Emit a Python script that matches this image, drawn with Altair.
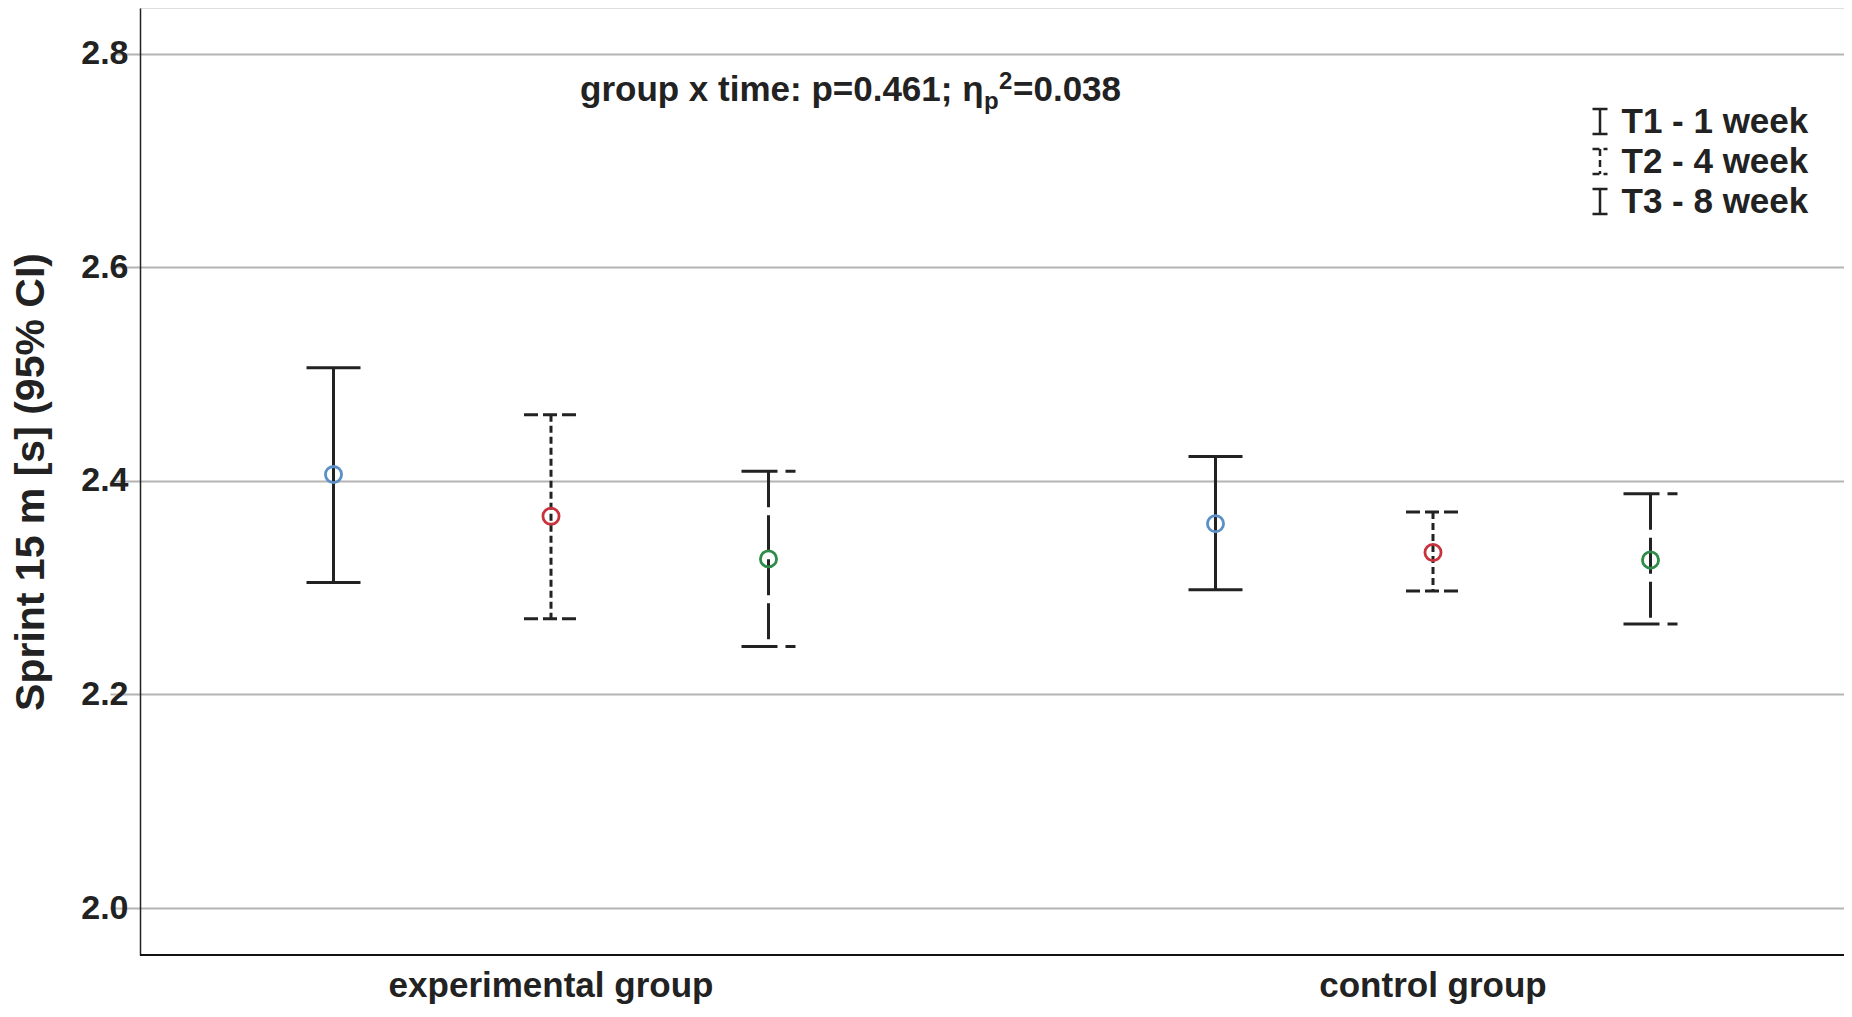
import altair as alt
import pandas as pd

# ---- data ----
groups = ["experimental group"] * 3 + ["control group"] * 3
times = ["T1 - 1 week", "T2 - 4 week", "T3 - 8 week"] * 2
means = [2.406, 2.367, 2.327, 2.360, 2.333, 2.326]
lower = [2.305, 2.271, 2.245, 2.298, 2.297, 2.266]
upper = [2.506, 2.462, 2.409, 2.423, 2.371, 2.388]

group_order = ["experimental group", "control group"]
time_order = ["T1 - 1 week", "T2 - 4 week", "T3 - 8 week"]
point_colors = ["#5b8fc8", "#c8323c", "#2e8b4a"]
bar_dashes = [[1, 0], [7, 4], [36, 8]]
cap_dashes = [[1, 0], [14, 5], [36, 8]]
y_ticks = [2.0, 2.2, 2.4, 2.6, 2.8]
y_title = "Sprint 15 m [s] (95% CI)"
# annotation pieces: main text, subscript, superscript, tail
note_main = "group x time: p=0.461; \u03b7"
note_sub = "p"
note_sup = "2"
note_tail = "=0.038"

df = pd.DataFrame({"group": groups, "time": times, "mean": means,
                   "lower": lower, "upper": upper})

W, H = 1704, 947
FONT = "Liberation Sans"
INK = "#222222"

x_enc = alt.X(
    "group:N",
    scale=alt.Scale(domain=group_order, range=[-30, 1734], paddingInner=0, paddingOuter=0),
    axis=alt.Axis(title=None, labelFontSize=35, labelFont=FONT, labelFontWeight="bold",
                  labelColor=INK, labelPadding=13, ticks=False, domain=False,
                  grid=False, labelAngle=0, labelLimit=800),
)
xo_enc = alt.XOffset("time:N", scale=alt.Scale(domain=time_order, paddingInner=0,
                                                paddingOuter=0.5276))
y_scale = alt.Scale(domain=[1.956, 2.843], nice=False, zero=False)

base = alt.Chart(df)

bars = base.mark_rule(strokeWidth=3, color=INK).encode(
    x=x_enc,
    xOffset=xo_enc,
    y=alt.Y("upper:Q", scale=y_scale,
            axis=alt.Axis(values=y_ticks, format=".1f", title=y_title,
                          labelFontSize=34, labelFont=FONT, labelFontWeight="bold",
                          labelColor=INK, labelPadding=12, ticks=False,
                          domain=True, domainColor=INK, domainWidth=1.5,
                          grid=True, gridColor="#b4b4b4", gridWidth=2,
                          titleFontSize=41, titleFont=FONT, titleFontWeight="bold",
                          titleColor=INK, titlePadding=28)),
    y2="lower:Q",
    strokeDash=alt.StrokeDash(
        "time:N",
        scale=alt.Scale(domain=time_order, range=bar_dashes),
        legend=alt.Legend(title=None, orient="none", legendX=1442.5, legendY=96,
                          symbolType="M-0.6,-1L0.6,-1M0,-1L0,1M-0.6,1L0.6,1",
                          symbolSize=625, symbolStrokeWidth=2.5,
                          symbolStrokeColor=INK, symbolFillColor="transparent",
                          labelFontSize=35, labelFont=FONT, labelFontWeight="bold",
                          labelColor=INK, rowPadding=4, labelOffset=4, padding=0,
                          labelLimit=400),
    ),
)

cap_shape = "M-1,0L1,0"
cap_dash = alt.StrokeDash("time:N", scale=alt.Scale(domain=time_order, range=cap_dashes),
                          legend=None)
caps_top = base.mark_point(shape=cap_shape, size=2916, strokeWidth=3, color=INK,
                           filled=False, opacity=1).encode(
    x=x_enc, xOffset=xo_enc, y=alt.Y("upper:Q", scale=y_scale), strokeDash=cap_dash)
caps_bot = base.mark_point(shape=cap_shape, size=2916, strokeWidth=3, color=INK,
                           filled=False, opacity=1).encode(
    x=x_enc, xOffset=xo_enc, y=alt.Y("lower:Q", scale=y_scale), strokeDash=cap_dash)

points = base.mark_point(shape="circle", filled=False, size=260, strokeWidth=2.8,
                         opacity=1).encode(
    x=x_enc, xOffset=xo_enc, y=alt.Y("mean:Q", scale=y_scale),
    color=alt.Color("time:N", scale=alt.Scale(domain=time_order, range=point_colors),
                    legend=None),
)

one = pd.DataFrame({"a": [0]})


def note_piece(text, x, y, size):
    return alt.Chart(one).mark_text(
        text=text, font=FONT, fontSize=size, fontWeight="bold", color=INK,
        align="left", baseline="alphabetic").encode(x=alt.value(x), y=alt.value(y))


note = alt.layer(
    note_piece(note_main, 440, 93, 35),
    note_piece(note_sub, 844, 101, 24),
    note_piece(note_sup, 859, 81, 24),
    note_piece(note_tail, 873, 93, 35),
)

x_line = alt.Chart(one).mark_rule(color="#111111", strokeWidth=2).encode(
    x=alt.value(0), x2=alt.value(W), y=alt.value(H))

chart = alt.layer(bars, caps_top, caps_bot, points, note, x_line).resolve_scale(
    strokeDash="independent"
).properties(
    width=W, height=H,
    autosize=alt.AutoSizeParams(type="none"),
    padding={"left": 132, "top": 0, "right": 0, "bottom": 50},
).configure_view(stroke=None).configure(background="white")

chart.save("out.html", embed_options={"renderer": "svg", "actions": False})
